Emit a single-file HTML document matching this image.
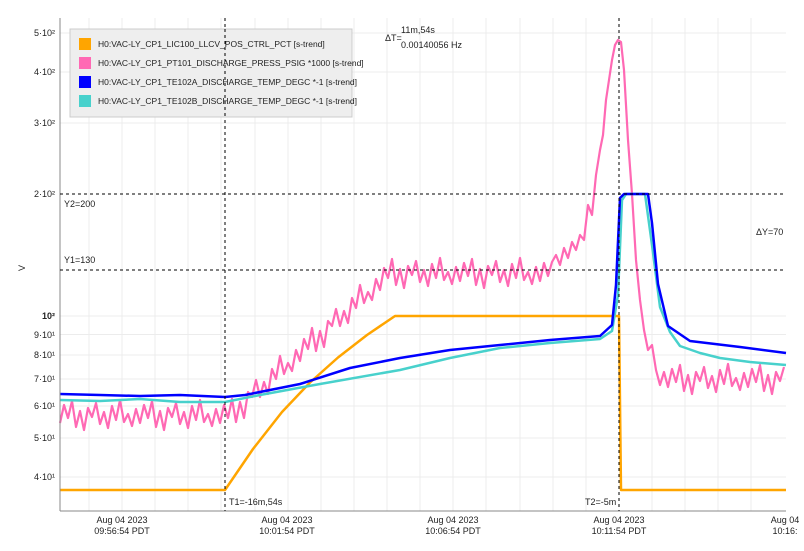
<!DOCTYPE html>
<html><head><meta charset="utf-8"><style>
body{margin:0;background:#fff;}
svg{display:block;font-family:"Liberation Sans","DejaVu Sans",sans-serif;}
</style></head><body>
<svg width="804" height="551" xmlns="http://www.w3.org/2000/svg">
<rect width="804" height="551" fill="#fff"/>
<g stroke="#ececec" stroke-width="1">
<line x1="89" y1="18" x2="89" y2="511"/><line x1="122" y1="18" x2="122" y2="511"/><line x1="155" y1="18" x2="155" y2="511"/><line x1="188" y1="18" x2="188" y2="511"/><line x1="221" y1="18" x2="221" y2="511"/><line x1="255" y1="18" x2="255" y2="511"/><line x1="288" y1="18" x2="288" y2="511"/><line x1="321" y1="18" x2="321" y2="511"/><line x1="354" y1="18" x2="354" y2="511"/><line x1="387" y1="18" x2="387" y2="511"/><line x1="420" y1="18" x2="420" y2="511"/><line x1="453" y1="18" x2="453" y2="511"/><line x1="486" y1="18" x2="486" y2="511"/><line x1="520" y1="18" x2="520" y2="511"/><line x1="553" y1="18" x2="553" y2="511"/><line x1="586" y1="18" x2="586" y2="511"/><line x1="652" y1="18" x2="652" y2="511"/><line x1="685" y1="18" x2="685" y2="511"/><line x1="718" y1="18" x2="718" y2="511"/><line x1="751" y1="18" x2="751" y2="511"/>
<line x1="60" y1="33" x2="786" y2="33"/><line x1="60" y1="72" x2="786" y2="72"/><line x1="60" y1="123" x2="786" y2="123"/><line x1="60" y1="316" x2="786" y2="316"/><line x1="60" y1="334.5" x2="786" y2="334.5"/><line x1="60" y1="355" x2="786" y2="355"/><line x1="60" y1="379" x2="786" y2="379"/><line x1="60" y1="406" x2="786" y2="406"/><line x1="60" y1="438" x2="786" y2="438"/><line x1="60" y1="477" x2="786" y2="477"/>
</g>
<g font-size="9" fill="#222" text-anchor="end">
<text x="55" y="36">5·10²</text><text x="55" y="75">4·10²</text><text x="55" y="126">3·10²</text><text x="55" y="197">2·10²</text><text x="55" y="319" font-weight="bold">10²</text><text x="55" y="338">9·10¹</text><text x="55" y="358">8·10¹</text><text x="55" y="382">7·10¹</text><text x="55" y="409">6·10¹</text><text x="55" y="441">5·10¹</text><text x="55" y="480">4·10¹</text>
</g>
<g fill="none" stroke-linejoin="round">
<path stroke="#FF69B4" stroke-width="2.2" d="M60,423 L64,405 L68,418 L72,401 L76,427 L80,411 L84,430 L88,408 L92,417 L96,403 L100,424 L104,412 L108,428 L112,406 L116,420 L120,400 L124,422 L128,414 L132,426 L136,409 L140,423 L144,405 L148,418 L152,401 L156,427 L160,411 L164,430 L168,408 L172,417 L176,403 L180,424 L184,412 L188,428 L192,406 L196,420 L200,400 L204,422 L208,414 L212,426 L216,409 L220,423 L224,405 L228,418 L232,399 L236,422 L240,402 L244,418 L248,392 L252,397 L256,380 L260,397 L264,382 L268,394 L272,369 L276,379 L280,356 L284,374 L288,363 L292,371 L296,350 L300,361 L304,339 L308,349 L312,328 L316,351 L320,331 L324,347 L328,321 L332,326 L336,309 L340,326 L344,311 L348,323 L352,298 L356,308 L360,285 L364,303 L368,292 L372,300 L376,279 L380,290 L384,268 L388,278 L392,259 L396,285 L400,269 L404,288 L408,266 L412,275 L416,261 L420,282 L424,270 L428,286 L432,264 L436,278 L440,258 L444,280 L448,272 L452,284 L456,267 L460,281 L464,263 L468,276 L472,259 L476,285 L480,269 L484,288 L488,266 L492,275 L496,261 L500,282 L504,270 L508,286 L512,264 L516,278 L520,258 L524,280 L528,272 L532,284 L536,267 L540,281 L544,263 L548,276 L552,262 L556,255 L560,265 L564,248 L568,258 L572,242 L576,250 L580,235 L584,240 L588,205 L592,215 L596,175 L600,150 L603,135 L606,100 L609,80 L612,60 L615,45 L618,40 L621,42 L624,70 L628,140 L632,194 L636,260 L640,300 L644,330 L648,350 L652,345 L656,370 L660,385 L664,372 L668,387 L672,369 L676,382 L680,365 L684,391 L688,375 L692,394 L696,372 L700,381 L704,367 L708,388 L712,376 L716,392 L720,370 L724,384 L728,364 L732,386 L736,378 L740,390 L744,373 L748,387 L752,369 L756,382 L760,365 L764,391 L768,375 L772,394 L776,372 L780,381 L784,367"/>
<path stroke="#FFA500" stroke-width="2.5" d="M60,490 L225,490 L253,449 L282,412 L310,382.5 L338,357.5 L367,335 L395,316 L619,316 L621,490 L786,490"/>
<path stroke="#48D1CC" stroke-width="2.5" d="M60,400 L100,401 L140,399 L180,402 L225,402 L260,395 L320,384 L400,370 L450,358 L500,348 L550,343 L600,339 L612,331 L618,295 L622,200 L626,194 L645,194 L652,245 L660,307 L670,332 L680,346 L700,353 L720,358 L750,362 L786,365"/>
<path stroke="#0000FF" stroke-width="2.5" d="M60,394 L100,395 L140,396 L180,395 L225,397 L245,395 L300,384 L350,368 L400,358 L450,350 L500,345 L550,340 L600,336 L612,325 L616,285 L620,198 L624,194 L648,194 L652,223 L658,284 L668,326 L690,341 L740,347 L786,353"/>
</g>
<line x1="60" y1="18" x2="60" y2="511" stroke="#888"/>
<line x1="60" y1="511" x2="786" y2="511" stroke="#888"/>
<g stroke="#000" stroke-dasharray="3,3" stroke-width="1">
<line x1="225" y1="18" x2="225" y2="511"/>
<line x1="619" y1="18" x2="619" y2="511"/>
<line x1="60" y1="194" x2="786" y2="194"/>
<line x1="60" y1="270" x2="786" y2="270"/>
</g>
<g font-size="9" fill="#222">
<text x="229" y="505">T1=-16m,54s</text>
<text x="585" y="505">T2=-5m</text>
<text x="64" y="207">Y2=200</text>
<text x="64" y="263">Y1=130</text>
<text x="756" y="235">ΔY=70</text>
<text x="385" y="41">ΔT=</text>
<text x="401" y="33">11m,54s</text>
<text x="401" y="48">0.00140056 Hz</text>
<text x="25" y="268" transform="rotate(-90 25 268)" text-anchor="middle">V</text>
</g>
<g font-size="9" fill="#222" text-anchor="middle">
<text x="122" y="523">Aug 04 2023</text><text x="122" y="534">09:56:54 PDT</text>
<text x="287" y="523">Aug 04 2023</text><text x="287" y="534">10:01:54 PDT</text>
<text x="453" y="523">Aug 04 2023</text><text x="453" y="534">10:06:54 PDT</text>
<text x="619" y="523">Aug 04 2023</text><text x="619" y="534">10:11:54 PDT</text>
<text x="785" y="523">Aug 04</text><text x="785" y="534">10:16:</text>
</g>
<rect x="70" y="29" width="282" height="88" fill="#eee" stroke="#ccc"/>
<g font-size="8.5" fill="#222">
<rect x="79" y="38" width="12" height="12" fill="#FFA500"/><text x="98" y="47">H0:VAC-LY_CP1_LIC100_LLCV_POS_CTRL_PCT [s-trend]</text>
<rect x="79" y="57" width="12" height="12" fill="#FF69B4"/><text x="98" y="66">H0:VAC-LY_CP1_PT101_DISCHARGE_PRESS_PSIG *1000 [s-trend]</text>
<rect x="79" y="76" width="12" height="12" fill="#0000FF"/><text x="98" y="85">H0:VAC-LY_CP1_TE102A_DISCHARGE_TEMP_DEGC *-1 [s-trend]</text>
<rect x="79" y="95" width="12" height="12" fill="#48D1CC"/><text x="98" y="104">H0:VAC-LY_CP1_TE102B_DISCHARGE_TEMP_DEGC *-1 [s-trend]</text>
</g>
<line x1="225" y1="29" x2="225" y2="117" stroke="#000" stroke-dasharray="3,3"/>
</svg>
</body></html>
